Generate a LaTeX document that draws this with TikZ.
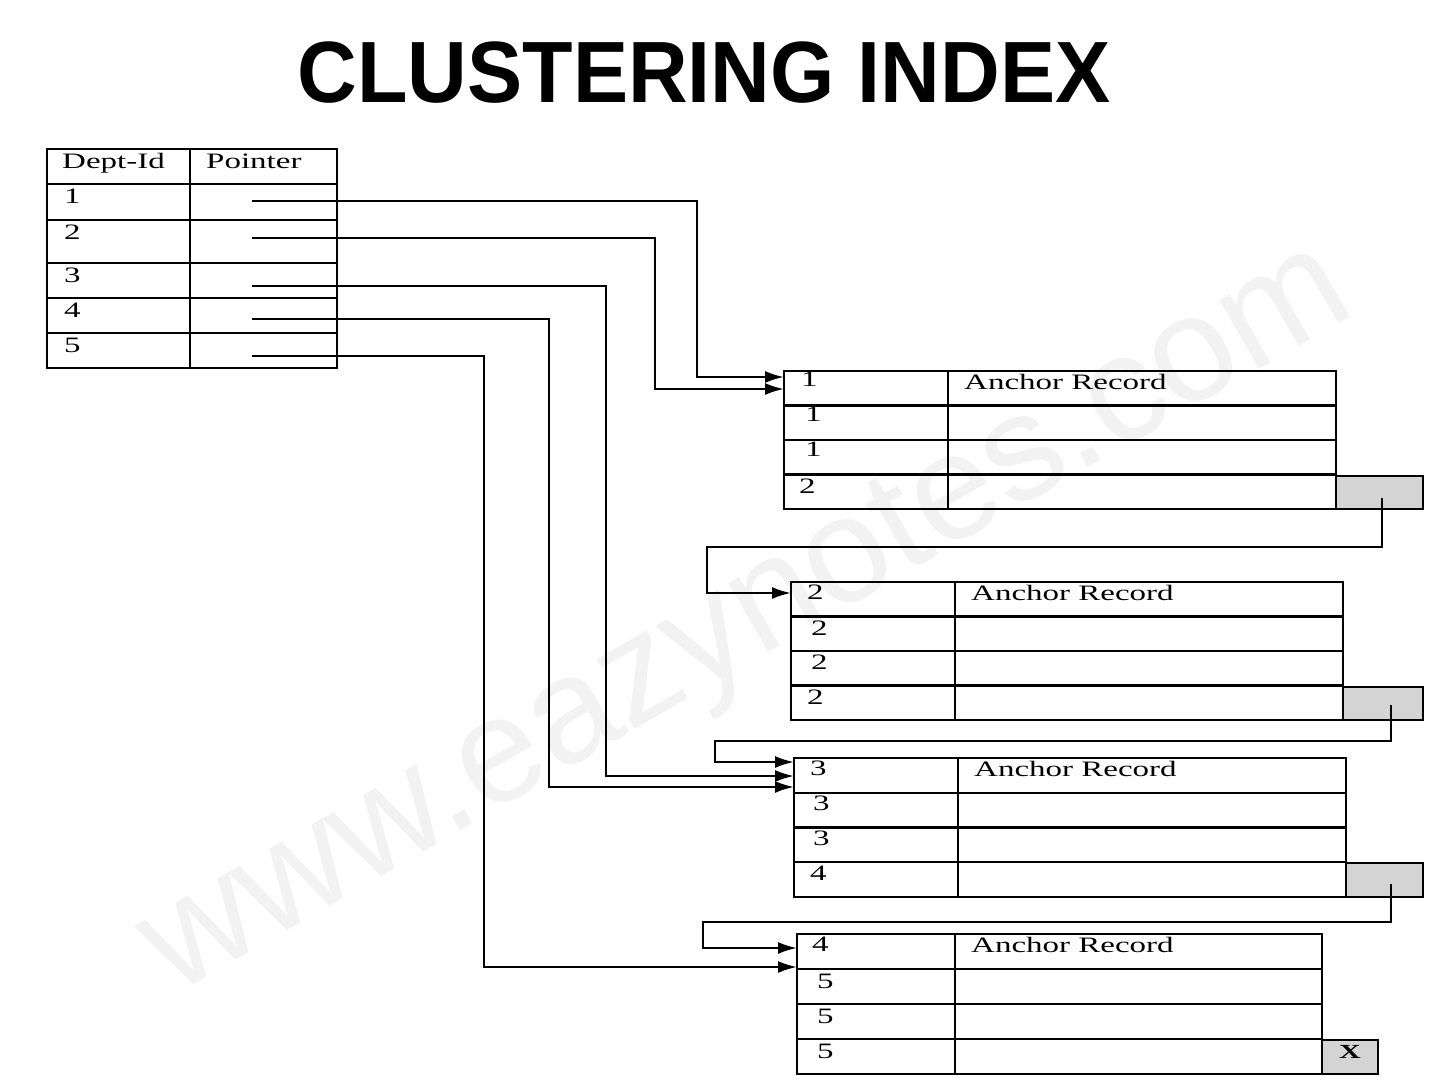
\documentclass[tikz,border=0pt]{standalone}
\usepackage{fontspec}
\setmainfont{Liberation Serif}
\newfontfamily\titlefont{Liberation Sans}
\usetikzlibrary{arrows.meta}
\newcommand\wtxt[1]{\scalebox{1.5}[1]{#1}}
\begin{document}
\begin{tikzpicture}[x=1pt,y=-1pt,
  grid/.style={line width=2.2pt, draw=black},
  conn/.style={line width=2.2pt, -{Latex[length=19pt,width=12pt]}},
  lbl/.style={anchor=base west, inner sep=0pt, font=\fontsize{22}{22}\selectfont},
  graybox/.style={fill=black!17, draw=black, line width=2.2pt},
  water/.style={text=black!5, font=\titlefont\fontsize{150}{150}\selectfont, rotate=30}]
\useasboundingbox (0,0) rectangle (1440,1080);
\fill[white] (0,0) rectangle (1440,1080);

% watermark
\node[water] (wm) at (750,625) {www.eazynotes.com};

% title
\node[font=\titlefont\bfseries\fontsize{87}{87}\selectfont, inner sep=0pt] (title) at (704,73) {\scalebox{0.95}[1]{CLUSTERING INDEX}};

% index table
\draw[grid] (47,149) rectangle (337,368);
\draw[grid] (190,149) -- (190,368);
\foreach \yy in {184,220,263,298,333} \draw[grid] (47,\yy) -- (337,\yy);
\node[lbl] (h1) at (62,168) {\wtxt{Dept-Id}};
\node[lbl] (h2) at (206,168) {\wtxt{Pointer}};
\node[lbl] (i1) at (64,203) {\wtxt{1}};
\node[lbl] (i2) at (64,239) {\wtxt{2}};
\node[lbl] (i3) at (64,282) {\wtxt{3}};
\node[lbl] (i4) at (64,317) {\wtxt{4}};
\node[lbl] (i5) at (64,352) {\wtxt{5}};

% record blocks: L, T, D, R, B
\newcommand\recblock[5]{%
  \draw[grid] (#1,#2) rectangle (#4,#5);
  \draw[grid] (#3,#2) -- (#3,#5);
  \foreach \i in {1,2,3} \draw[grid] (#1,{#2+\i*(#5-#2)/4}) -- (#4,{#2+\i*(#5-#2)/4});
}
\recblock{784}{371}{948}{1336}{509}
\recblock{791}{582}{955}{1343}{720}
\recblock{794}{758}{958}{1346}{897}
\recblock{797}{934}{955}{1322}{1074}

% gray link boxes
\draw[graybox] (1336,476) rectangle (1423,509);
\draw[graybox] (1343,687) rectangle (1423,720);
\draw[graybox] (1346,863) rectangle (1423,897);
\draw[graybox] (1322,1040) rectangle (1378,1074);
\node[font=\fontsize{20}{20}\selectfont\bfseries, inner sep=0pt] (xx) at (1350,1052) {\scalebox{1.5}[1]{X}};

% block 1 labels
\node[lbl] (a1) at (801,386) {\wtxt{1}};
\node[lbl] (a2) at (805,421) {\wtxt{1}};
\node[lbl] (a3) at (805,456) {\wtxt{1}};
\node[lbl] (a4) at (799,493) {\wtxt{2}};
\node[lbl] (ar1) at (964,389) {\wtxt{Anchor Record}};
% block 2
\node[lbl] (b1) at (807,599) {\wtxt{2}};
\node[lbl] (b2) at (811,635) {\wtxt{2}};
\node[lbl] (b3) at (811,669) {\wtxt{2}};
\node[lbl] (b4) at (807,704) {\wtxt{2}};
\node[lbl] (ar2) at (971,600) {\wtxt{Anchor Record}};
% block 3
\node[lbl] (c1) at (810,775) {\wtxt{3}};
\node[lbl] (c2) at (813,810) {\wtxt{3}};
\node[lbl] (c3) at (813,845) {\wtxt{3}};
\node[lbl] (c4) at (810,880) {\wtxt{4}};
\node[lbl] (ar3) at (974,776) {\wtxt{Anchor Record}};
% block 4
\node[lbl] (d1) at (812,951) {\wtxt{4}};
\node[lbl] (d2) at (817,988) {\wtxt{5}};
\node[lbl] (d3) at (817,1023) {\wtxt{5}};
\node[lbl] (d4) at (817,1058) {\wtxt{5}};
\node[lbl] (ar4) at (971,952) {\wtxt{Anchor Record}};

% connector ends
\coordinate (p1) at (252,201);
\coordinate (p2) at (252,238);
\coordinate (p3) at (252,286);
\coordinate (p4) at (252,319);
\coordinate (p5) at (252,356);
\coordinate (e1a) at (784,377);
\coordinate (e1b) at (784,389);
\coordinate (e2a) at (791,593);
\coordinate (e3a) at (794,762);
\coordinate (e3b) at (794,776);
\coordinate (e3c) at (794,787);
\coordinate (e4a) at (797,948);
\coordinate (e4b) at (797,967);
\coordinate (g1) at (1382,498);
\coordinate (g2) at (1391,705);
\coordinate (g3) at (1391,884);

\draw[conn] (p1) -- (697,201) |- (e1a);
\draw[conn] (p2) -- (655,238) |- (e1b);
\draw[conn] (p3) -- (606,286) |- (e3b);
\draw[conn] (p4) -- (549,319) |- (e3c);
\draw[conn] (p5) -- (484,356) |- (e4b);
\draw[conn] (g1) |- (707,547) |- (e2a);
\draw[conn] (g2) |- (715,741) |- (e3a);
\draw[conn] (g3) |- (703,922) |- (e4a);
\end{tikzpicture}
\end{document}
